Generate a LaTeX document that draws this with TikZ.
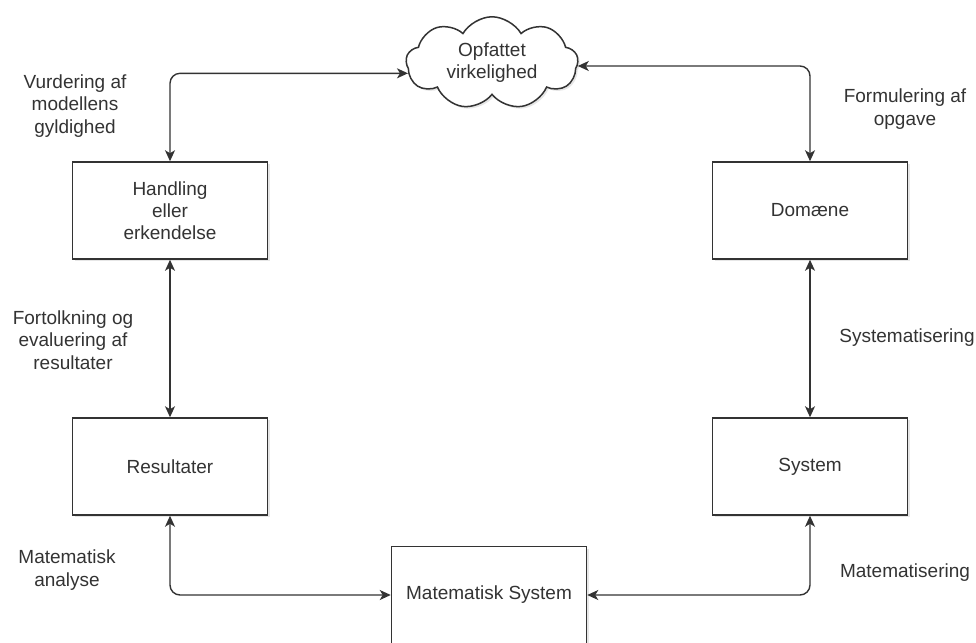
\documentclass[tikz,border=0pt]{standalone}
\usepackage{fontspec}
\setmainfont{Liberation Sans}
\usetikzlibrary{shapes.symbols,arrows.meta,shadows}
\definecolor{inkgray}{RGB}{51,51,51}

\begin{document}
\begin{tikzpicture}[
    x=1pt, y=-1pt,
    box/.style={rectangle, draw=inkgray, fill=white, line width=1.5pt, minimum width=195pt, minimum height=97pt, align=center, text=inkgray, font=\fontsize{19}{22}\selectfont, drop shadow={shadow xshift=2pt, shadow yshift=-2pt, opacity=0.2}},
    arrow/.style={{Stealth[length=11pt,width=10pt,inset=3pt]}-{Stealth[length=11pt,width=10pt,inset=3pt]}, draw=inkgray, line width=1.4pt, rounded corners=10pt},
    lbl/.style={align=center, text=inkgray, font=\fontsize{19}{22.5}\selectfont}
]
    \useasboundingbox (0,0) rectangle (976,642);

    % Cloud
    \node[cloud, cloud puffs=9, cloud puff arc=120, aspect=1.8, draw=inkgray, fill=white, line width=1.5pt, minimum width=172pt, minimum height=88pt, inner sep=0pt, align=center, text=inkgray, font=\fontsize{19}{22}\selectfont, drop shadow={shadow xshift=2pt, shadow yshift=-2pt, opacity=0.2}] (cloud) at (492,63) {Opfattet\\virkelighed};

    % Boxes
    \node[box] (hand) at (170,210.5) {Handling\\eller\\erkendelse};
    \node[box] (dom) at (810,210.5) {Domæne};
    \node[box] (res) at (170,466.5) {Resultater};
    \node[box] (sys) at (810,466.5) {System};
    \node[box] (mat) at (489,595) {Matematisk System};

    % Arrows
    \draw[arrow] (cloud.187) -| (hand.north);
    \draw[arrow] (cloud.-2) -| (dom.north);
    \draw[arrow] (hand.south) -- (res.north);
    \draw[arrow] (dom.south) -- (sys.north);
    \draw[arrow] (res.south) |- (mat.west);
    \draw[arrow] (sys.south) |- (mat.east);

    % Labels
    \node[lbl] (vurd) at (75,106) {Vurdering af\\modellens\\gyldighed};
    \node[lbl] (fort) at (73,340) {Fortolkning og\\evaluering af\\resultater};
    \node[lbl] (anal) at (67,570) {Matematisk\\analyse};
    \node[lbl] (form) at (905,109) {Formulering af\\opgave};
    \node[lbl] (syst) at (907,338) {Systematisering};
    \node[lbl] (mtis) at (905,573) {Matematisering};

\end{tikzpicture}
\end{document}
